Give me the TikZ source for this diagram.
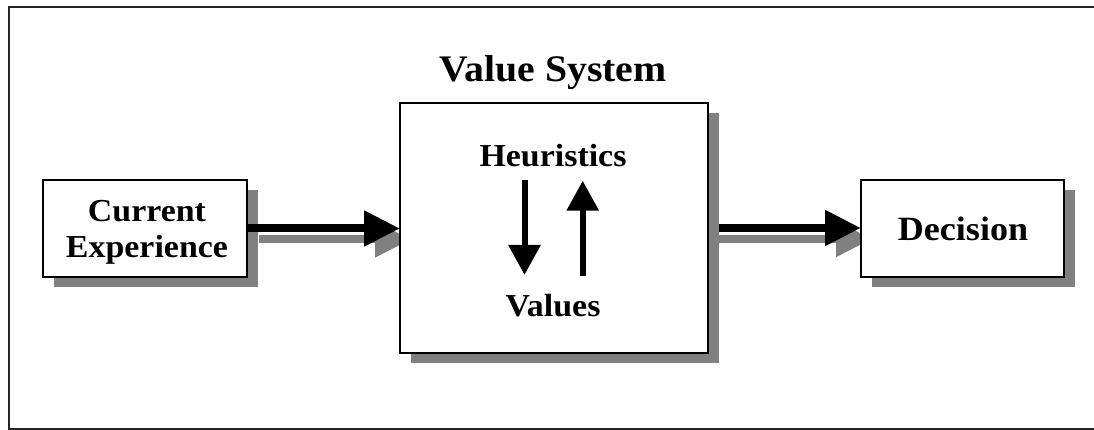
\documentclass[tikz,border=0pt]{standalone}
\usepackage{fontspec}
\setmainfont[FakeStretch=1.06]{Liberation Serif}
\usetikzlibrary{arrows.meta,shadows}
\begin{document}
\begin{tikzpicture}[x=1pt,y=1pt,
  lbl/.style={font=\bfseries\fontsize{32}{36}\selectfont, align=center},
  box/.style={draw=black, line width=1.8pt, fill=white, inner sep=0pt,
    general shadow={fill=black!50, shadow xshift=11pt, shadow yshift=-10pt}},
  bigarrow/.style={line width=8pt, -{Triangle[length=36pt,width=34pt]}},
  arrowshadow/.style={bigarrow, draw=black!50, color=black!50},
  smallarrow/.style={line width=6pt, -{Triangle[length=30pt,width=31pt]}}
]
\useasboundingbox (0,0) rectangle (1094,430);
\draw[line width=2.5pt, black!85] (1100,423) -- (9,423) -- (9,1) -- (1100,1);

% left box
\node[box, minimum width=204pt, minimum height=97pt] (cur) at (145,201.5) {};
\node[lbl] (curtxt) at (147,198) {Current\\[0pt]Experience};

% arrows between boxes
\draw[arrowshadow] ([shift={(11pt,-11pt)}]cur.east) -- ([shift={(11pt,-11pt)}]cur.east -| 400,0);
\draw[bigarrow] (cur.east) -- (400,201.5) coordinate (vsin);

\coordinate (vsout) at (708,202);
\coordinate (decin) at (861,202);
\draw[arrowshadow] ([shift={(11pt,-11pt)}]vsout) -- ([shift={(11pt,-11pt)}]decin);
\draw[bigarrow] (vsout) -- (decin);

% middle box
\node[box, minimum width=308pt, minimum height=250pt] (vs) at (554,202) {};
\node[lbl, font=\bfseries\fontsize{37.5}{40}\selectfont] (vstitle) at (553,357) {Value System};
\node[lbl] (heur) at (553,274) {Heuristics};
\node[lbl] (vals) at (553,124) {Values};
\coordinate (d1) at (524.5,250);
\coordinate (d2) at (524.5,155);
\coordinate (u1) at (582.7,154);
\coordinate (u2) at (582.7,249.3);
\draw[smallarrow] (d1) -- (d2);
\draw[smallarrow] (u1) -- (u2);

% right box
\node[box, minimum width=203pt, minimum height=97pt] (dec) at (962.5,201.5) {};
\node[lbl, font=\bfseries\fontsize{34}{36}\selectfont] (dectxt) at (963,201) {Decision};
\end{tikzpicture}
\end{document}
